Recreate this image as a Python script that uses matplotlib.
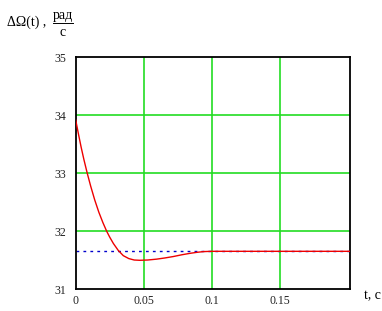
import matplotlib
matplotlib.use("Agg")
from matplotlib import pyplot as plt
from matplotlib.lines import Line2D

# curve values
t = [0, 0.002, 0.004, 0.006, 0.0085, 0.011, 0.014, 0.017, 0.020, 0.0228,
     0.025, 0.0277, 0.0313, 0.035, 0.039, 0.043, 0.047, 0.053, 0.0595,
     0.0655, 0.0718, 0.078, 0.084, 0.089, 0.094, 0.1, 0.2017]
omega = [33.92, 33.68, 33.45, 33.24, 33.0, 32.78, 32.54, 32.33, 32.15, 32.0,
         31.9, 31.79, 31.67, 31.58, 31.53, 31.505, 31.5, 31.505, 31.52,
         31.54, 31.565, 31.595, 31.62, 31.637, 31.65, 31.655, 31.655]
steady = 31.655

x_ticks = [0, 0.05, 0.1, 0.15]
x_labels = ["0", "0.05", "0.1", "0.15"]
y_ticks = [31, 32, 33, 34, 35]

W, H = 382, 311
fig = plt.figure(figsize=(W / 100, H / 100), dpi=100)
ax = fig.add_axes([75.7 / W, (H - 289.3) / H, 274.3 / W, 232 / H])

grid_c = "#22dd22"
for v in x_ticks[1:]:
    ax.axvline(v, color=grid_c, lw=1.2, zorder=1)
for v in y_ticks[1:-1]:
    ax.axhline(v, color=grid_c, lw=1.2, zorder=1)

ax.axhline(steady, color="#0000cc", lw=1.0, ls=(0, (2, 3)), zorder=2)
ax.plot(t, omega, color="#ee0000", lw=1.0, zorder=3)

ax.set_xlim(0, 0.2017)
ax.set_ylim(31, 35)
ax.set_xticks(x_ticks)
ax.set_xticklabels(x_labels)
ax.set_yticks(y_ticks)
ax.tick_params(axis="x", length=0, pad=4, labelsize=8.5, colors="#222222")
ax.tick_params(axis="y", length=0, pad=7, labelsize=8.5, colors="#222222")
for lab in ax.get_xticklabels() + ax.get_yticklabels():
    lab.set_family("Liberation Serif")
for s in ax.spines.values():
    s.set_linewidth(1.3)
    s.set_color("black")

# axis captions
fs = 10
fig.text(7 / W, 1 - 22 / H, "ΔΩ(t) ,", family="Liberation Serif", fontsize=fs,
         va="center", ha="left")
fig.text(63 / W, 1 - 15 / H, "рад", family="Liberation Serif", fontsize=fs,
         va="center", ha="center")
fig.add_artist(Line2D([53 / W, 73 / W], [1 - 22.5 / H, 1 - 22.5 / H],
                      color="black", lw=0.7, transform=fig.transFigure))
fig.text(63 / W, 1 - 33 / H, "с", family="Liberation Serif", fontsize=fs,
         va="center", ha="center")
fig.text(372 / W, 1 - 296 / H, "t, c", family="Liberation Serif", fontsize=fs,
         va="center", ha="center")

fig.savefig("out.png", dpi=100)
